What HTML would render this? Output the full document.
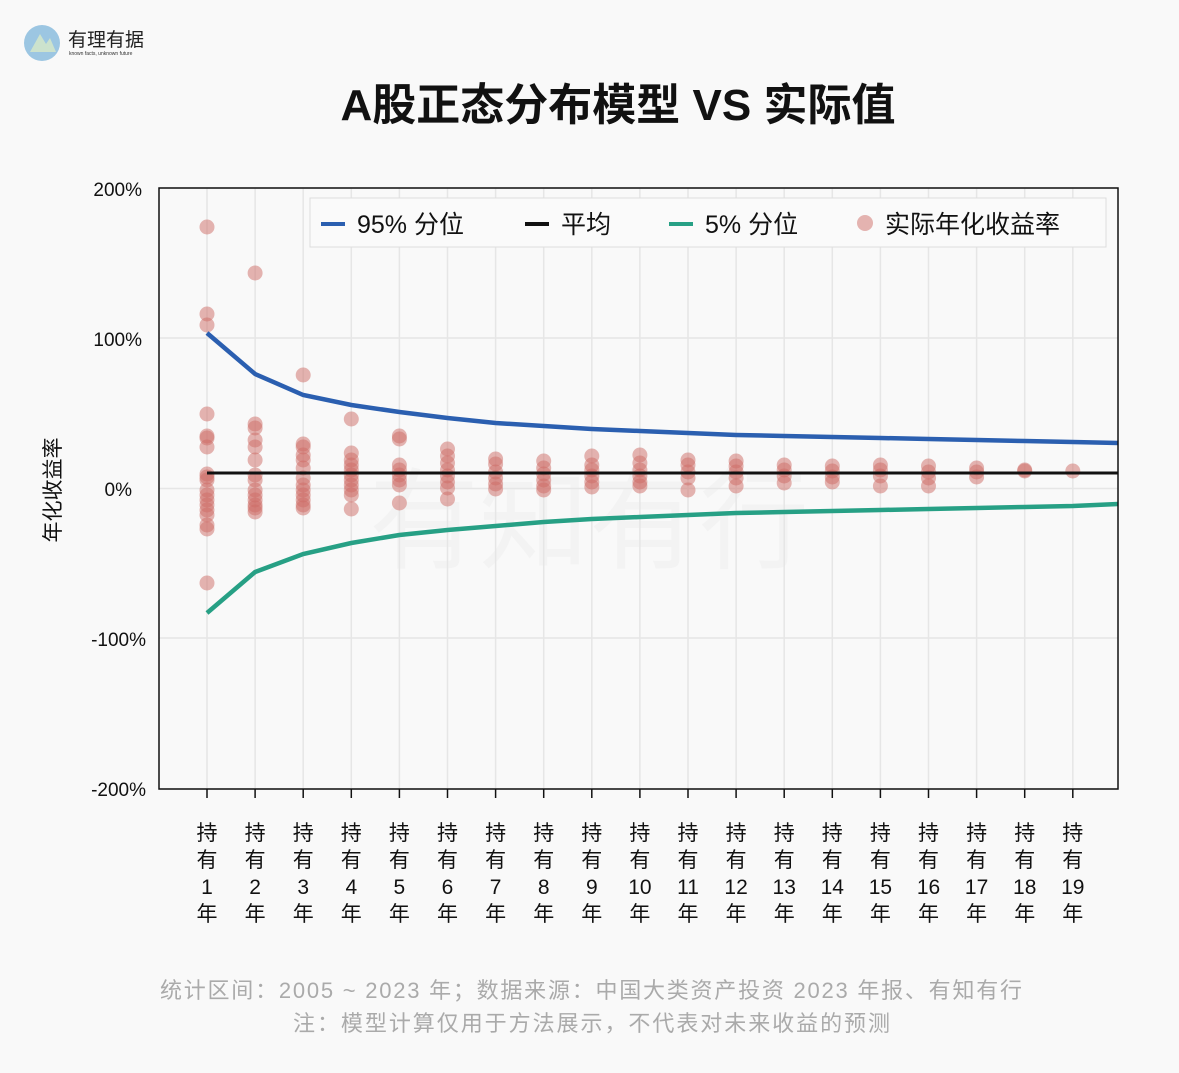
<!DOCTYPE html>
<html><head><meta charset="utf-8"><style>
body{margin:0;background:#f9f9f9;width:1179px;height:1068px;overflow:hidden;font-family:"Liberation Sans","Noto Sans CJK SC",sans-serif}
</style></head><body>
<svg id="s" width="1179" height="1068" xmlns="http://www.w3.org/2000/svg" font-family="Liberation Sans, Noto Sans CJK SC, sans-serif">
<rect width="1179" height="1068" fill="#f9f9f9"/>
<circle cx="42" cy="43" r="18" fill="#9cc6e2"/>
<path d="M30 52 L40 34 L46 44 L50 38 L56 52 Z" fill="#d8e8c8" opacity="0.8"/>
<text x="68" y="46" font-size="19" fill="#222">有理有据</text>
<text x="69" y="55" font-size="5" fill="#333">known facts, unknown future</text>
<text x="618" y="120" font-size="44" font-weight="bold" text-anchor="middle" fill="#111">A股正态分布模型 VS 实际值</text>
<text x="589" y="560" font-size="110" fill="#000" opacity="0.02" text-anchor="middle">有知有行</text>
<g id="grid" stroke="#e6e6e6" stroke-width="1.5"></g>
<g id="pts"></g>
<g id="lines" fill="none" stroke-width="4.5"></g>
<rect x="159" y="188" width="959" height="601" fill="none" stroke="#111" stroke-width="1.5"/>
<g font-size="19" fill="#111" text-anchor="end">
<text x="142" y="196">200%</text><text x="142" y="346">100%</text><text x="132" y="496">0%</text><text x="146" y="646">-100%</text><text x="146" y="796">-200%</text>
</g>
<text transform="translate(60,490) rotate(-90)" font-size="21" text-anchor="middle" fill="#111">年化收益率</text>
<g id="xl" font-size="21" fill="#111" text-anchor="middle"></g>
<rect x="310" y="198" width="796" height="49" fill="#fafafa" stroke="#ddd"/>
<line x1="321" y1="224" x2="345" y2="224" stroke="#2b5fb0" stroke-width="4"/>
<text x="357" y="233" font-size="25" fill="#111">95% 分位</text>
<line x1="525" y1="224" x2="549" y2="224" stroke="#111" stroke-width="4"/>
<text x="561" y="233" font-size="25" fill="#111">平均</text>
<line x1="669" y1="224" x2="693" y2="224" stroke="#27a085" stroke-width="4"/>
<text x="705" y="233" font-size="25" fill="#111">5% 分位</text>
<circle cx="865" cy="223" r="8" fill="#cd6b66" opacity="0.5"/>
<text x="885" y="233" font-size="25" fill="#111">实际年化收益率</text>
<text x="160" y="998" font-size="22" fill="#aaa" textLength="862" lengthAdjust="spacing">统计区间：2005 ~ 2023 年；数据来源：中国大类资产投资 2023 年报、有知有行</text>
<text x="293" y="1031" font-size="22" fill="#aaa" textLength="597" lengthAdjust="spacing">注：模型计算仅用于方法展示，不代表对未来收益的预测</text>
</svg>
<script>
var NS="http://www.w3.org/2000/svg";
function el(p,t,a,txt){var e=document.createElementNS(NS,t);for(var k in a)e.setAttribute(k,a[k]);if(txt!=null)e.textContent=txt;document.getElementById(p).appendChild(e);}
function X(i){return 207+(i-1)*48.1;}
for(var i=1;i<=19;i++){el("grid","line",{x1:X(i),y1:188,x2:X(i),y2:789});
el("xl","line",{x1:X(i),y1:789,x2:X(i),y2:798,stroke:"#111","stroke-width":1.5});
var lab=["持","有",String(i),"年"];for(var j=0;j<4;j++)el("xl","text",{x:X(i),y:840+j*27},lab[j]);}
[188,338,488.5,638,789].forEach(function(y){el("grid","line",{x1:159,y1:y,x2:1118,y2:y});});
var P={1:[227,314,325,414,436,438,447,474,477,480,490,495,500,505,510,515,525,529,583],
2:[273,424,428,440,447,460,475,480,490,495,500,505,508,512],
3:[375,444,447,455,460,468,478,485,490,495,500,505,508],
4:[419,453,460,465,470,475,480,485,490,495,509],
5:[436,439,465,470,475,480,485,503],
6:[449,456,463,470,476,482,488,499],
7:[459,464,472,478,484,489],
8:[461,468,474,480,486,490],
9:[456,465,470,476,482,487],
10:[455,463,470,476,482,486],
11:[460,465,472,478,490],
12:[461,466,472,478,486],
13:[465,470,476,483],
14:[466,471,477,482],
15:[465,470,476,486],
16:[466,472,478,486],
17:[468,472,477],
18:[470,471],
19:[471]};
for(var k in P)P[k].forEach(function(y){el("pts","circle",{cx:X(+k),cy:y,r:7.5,fill:"#cd6b66",opacity:0.5});});
var B=[333,374,395,405,412,418,423,426,429,431,433,435,436,437,438,439,440,441,442];
var G=[613,572,554,543,535,530,526,522,519,517,515,513,512,511,510,509,508,507,506];
function pl(a,end,c){var s=a.map(function(y,i){return X(i+1)+","+y;}).join(" ")+" 1118,"+end;el("lines","polyline",{points:s,stroke:c});}
pl(B,443,"#2b5fb0");pl(G,504,"#27a085");
el("lines","line",{x1:207,y1:473,x2:1118,y2:473,stroke:"#111","stroke-width":3});
</script>
</body></html>
